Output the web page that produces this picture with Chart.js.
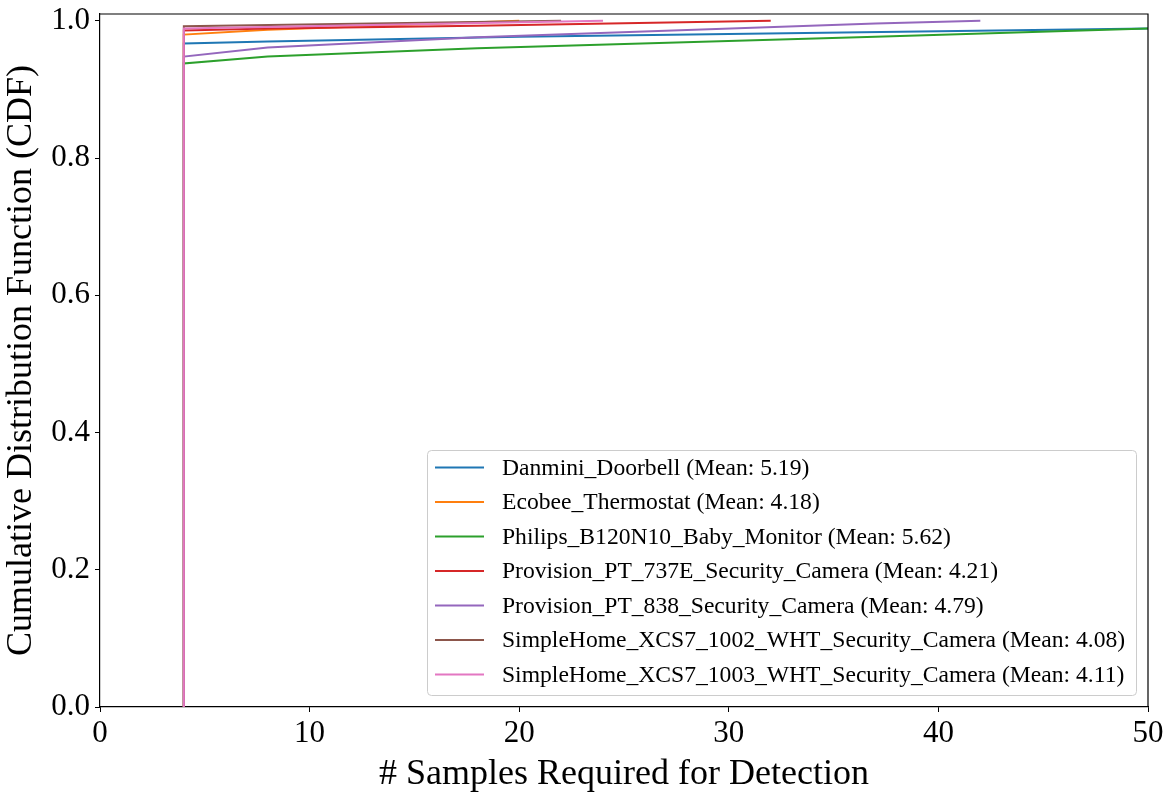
<!DOCTYPE html>
<html>
<head>
<meta charset="utf-8">
<script src="https://cdn.jsdelivr.net/npm/chart.js@4/dist/chart.umd.min.js"></script>
<style>
  html, body { margin: 0; padding: 0; background: #fff; }
  #wrap { width: 1174px; height: 796px; }
</style>
</head>
<body>
<div id="wrap"><canvas id="cdfChart" width="1174" height="796"></canvas></div>
<script>
// device names and means, as shown in the legend
const deviceNames = [
  'Danmini_Doorbell', 'Ecobee_Thermostat', 'Philips_B120N10_Baby_Monitor',
  'Provision_PT_737E_Security_Camera', 'Provision_PT_838_Security_Camera',
  'SimpleHome_XCS7_1002_WHT_Security_Camera', 'SimpleHome_XCS7_1003_WHT_Security_Camera'
];
const deviceMeans = [5.19, 4.18, 5.62, 4.21, 4.79, 4.08, 4.11];
const colors = ['#1f77b4', '#ff7f0e', '#2ca02c', '#d62728', '#9467bd', '#8c564b', '#e377c2'];

// CDF points (samples, cumulative fraction)
const danminiX = [4, 4, 8, 20, 50];
const danminiY = [0, 0.967, 0.970, 0.977, 0.989];
const ecobeeX = [4, 4, 8, 20];
const ecobeeY = [0, 0.980, 0.987, 1.0];
const philipsX = [4, 4, 8, 18, 37, 50];
const philipsY = [0, 0.938, 0.948, 0.960, 0.977, 0.989];
const pt737X = [4, 4, 8, 18, 32];
const pt737Y = [0, 0.986, 0.989, 0.993, 1.0];
const pt838X = [4, 4, 8, 18, 37, 42];
const pt838Y = [0, 0.948, 0.961, 0.976, 0.996, 1.0];
const sh1002X = [4, 4, 22];
const sh1002Y = [0, 0.992, 1.0];
const sh1003X = [4, 4, 24];
const sh1003Y = [0, 0.989, 1.0];

const xTicks = [0, 10, 20, 30, 40, 50];
const yTicks = [0, 0.2, 0.4, 0.6, 0.8, 1.0];

const seriesX = [danminiX, ecobeeX, philipsX, pt737X, pt838X, sh1002X, sh1003X];
const seriesY = [danminiY, ecobeeY, philipsY, pt737Y, pt838Y, sh1002Y, sh1003Y];

const FONT = "'Liberation Serif', 'Times New Roman', serif";

const datasets = deviceNames.map(function(name, i) {
  return {
    label: name + ' (Mean: ' + deviceMeans[i].toFixed(2) + ')',
    data: seriesX[i].map(function(x, j) { return {x: x, y: seriesY[i][j]}; }),
    borderColor: colors[i],
    backgroundColor: colors[i],
    borderWidth: 2,
    pointRadius: 0,
    tension: 0,
    fill: false,
    order: deviceNames.length - i   // later series on top, like matplotlib
  };
});

// legend box in the lower right, drawn by hand
const boxLegend = {
  id: 'boxLegend',
  afterDraw: function(chart) {
    const ctx = chart.ctx;
    const left = 427, top = 450, w = 709, h = 245, r = 4;
    ctx.save();
    ctx.fillStyle = 'rgba(255,255,255,0.8)';
    ctx.strokeStyle = '#cccccc';
    ctx.lineWidth = 1;
    ctx.beginPath();
    ctx.roundRect(left + 0.5, top + 0.5, w, h, r);
    ctx.fill();
    ctx.stroke();
    ctx.font = '23.6px ' + FONT;
    ctx.textBaseline = 'middle';
    chart.data.datasets.forEach(function(ds, i) {
      const yy = 467.5 + i * 34.5;
      ctx.strokeStyle = ds.borderColor;
      ctx.lineWidth = 2;
      ctx.beginPath();
      ctx.moveTo(435, yy);
      ctx.lineTo(484, yy);
      ctx.stroke();
      ctx.fillStyle = '#000';
      ctx.fillText(ds.label, 502, yy + 1);
    });
    ctx.restore();
  }
};

// matplotlib draws a full box around the axes
const frameBox = {
  id: 'frameBox',
  afterDatasetsDraw: function(chart) {
    const a = chart.chartArea, ctx = chart.ctx;
    ctx.save();
    ctx.strokeStyle = '#000';
    ctx.lineWidth = 1.2;
    ctx.beginPath();
    ctx.moveTo(a.left, a.top);
    ctx.lineTo(a.right, a.top);
    ctx.lineTo(a.right, a.bottom);
    ctx.stroke();
    ctx.restore();
  }
};

let cdfChart = new Chart(document.getElementById('cdfChart').getContext('2d'), {
  type: 'line',
  data: { datasets: datasets },
  plugins: [frameBox, boxLegend],
  options: {
    responsive: false,
    animation: false,
    devicePixelRatio: 1,
    layout: { padding: { left: 0, right: 26, top: 14, bottom: 0 } },
    plugins: {
      legend: { display: false },
      tooltip: { enabled: false }
    },
    scales: {
      x: {
        type: 'linear',
        min: 0,
        max: 50,
        afterBuildTicks: function(scale) { scale.ticks = xTicks.map(function(v) { return {value: v}; }); },
        afterFit: function(scale) { scale.height = 89; },
        border: { display: true, color: '#000', width: 1.2 },
        grid: { display: true, drawOnChartArea: false, drawTicks: true, tickLength: 5, color: '#000', tickWidth: 1 },
        ticks: { color: '#000', font: { family: FONT, size: 31 }, padding: 3, maxRotation: 0,
                 callback: function(v) { return String(v); } },
        title: { display: true, text: '# Samples Required for Detection', color: '#000',
                 font: { family: FONT, size: 36 }, padding: { top: 0, bottom: 0 } }
      },
      y: {
        type: 'linear',
        min: 0,
        max: 1.01,
        afterBuildTicks: function(scale) { scale.ticks = yTicks.map(function(v) { return {value: v}; }); },
        afterFit: function(scale) { scale.width = 100; scale.paddingTop = 0; scale.paddingBottom = 0; },
        border: { display: true, color: '#000', width: 1.2 },
        grid: { display: true, drawOnChartArea: false, drawTicks: true, tickLength: 5, color: '#000', tickWidth: 1 },
        ticks: { color: '#000', font: { family: FONT, size: 31 }, padding: 5,
                 callback: function(v) { return v.toFixed(1); } },
        title: { display: true, text: 'Cumulative Distribution Function (CDF)', color: '#000',
                 font: { family: FONT, size: 36 }, padding: { top: 0, bottom: 2 } }
      }
    }
  }
});
</script>
</body>
</html>
